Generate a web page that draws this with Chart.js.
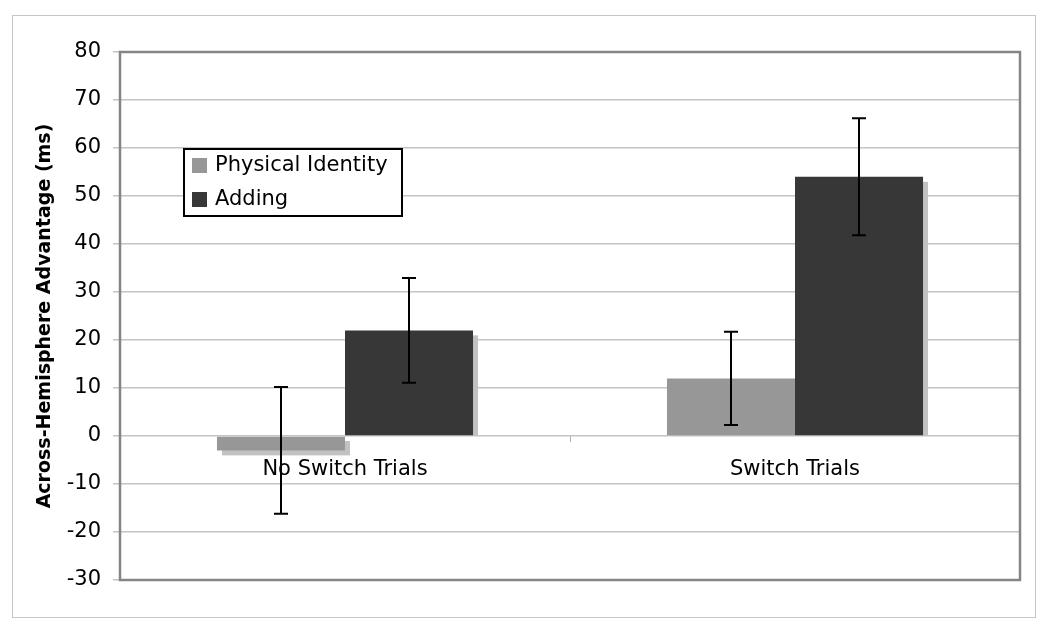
<!DOCTYPE html>
<html>
<head>
<meta charset="utf-8">
<script src="https://cdn.jsdelivr.net/npm/chart.js@4.4.1/dist/chart.umd.min.js"></script>
<style>
  html, body { margin: 0; padding: 0; background: #ffffff; }
  #wrap { position: relative; width: 1050px; height: 632px; }
  canvas { display: block; }
</style>
</head>
<body>
<div id="wrap"><canvas id="c" width="1050" height="632"></canvas></div>
<script>
// ---- data ----
const categories = ['No Switch Trials', 'Switch Trials'];
const seriesNames = ['Physical Identity', 'Adding'];
const physicalIdentity = [-3, 12];
const adding = [22, 54];
const physicalIdentityErr = [13.2, 9.7];
const addingErr = [10.9, 12.2];
const yMin = -30, yMax = 80, yStep = 10;
const yTitle = 'Across-Hemisphere Advantage (ms)';

const FONT = "'DejaVu Sans', Verdana, sans-serif";

// outer frame
const framePlugin = {
  id: 'frame',
  beforeDraw(chart) {
    const ctx = chart.ctx;
    ctx.save();
    ctx.fillStyle = '#ffffff';
    ctx.fillRect(0, 0, chart.width, chart.height);
    ctx.strokeStyle = '#c6c6c6';
    ctx.lineWidth = 1;
    ctx.strokeRect(12.5, 15.5, 1023, 602);
    ctx.restore();
  }
};

// bar shadows + plot border
const shadowPlugin = {
  id: 'shadows',
  beforeDatasetsDraw(chart) {
    const ctx = chart.ctx;
    const yScale = chart.scales.y;
    const base = yScale.getPixelForValue(0);
    const dx = 5, dy = 5;
    ctx.save();
    ctx.fillStyle = '#c2c2c2';
    chart.data.datasets.forEach((ds, i) => {
      const meta = chart.getDatasetMeta(i);
      meta.data.forEach((el, j) => {
        const v = ds.data[j];
        const left = el.x - el.width / 2 + dx;
        const w = el.width;
        let top, bottom;
        if (v >= 0) { top = el.y + dy; bottom = base; }
        else { top = base + dy; bottom = el.y + dy; }
        ctx.fillRect(left, top, w, bottom - top);
      });
    });
    // plot border
    const a = chart.chartArea;
    ctx.strokeStyle = '#858585';
    ctx.lineWidth = 2.5;
    ctx.strokeRect(a.left, a.top, a.right - a.left, a.bottom - a.top);
    ctx.restore();
  }
};

// error bars
const errorPlugin = {
  id: 'errorBars',
  afterDatasetsDraw(chart) {
    const ctx = chart.ctx;
    const yScale = chart.scales.y;
    const errs = [physicalIdentityErr, addingErr];
    ctx.save();
    ctx.strokeStyle = '#000000';
    ctx.lineWidth = 2;
    chart.data.datasets.forEach((ds, i) => {
      const meta = chart.getDatasetMeta(i);
      meta.data.forEach((el, j) => {
        const v = ds.data[j], e = errs[i][j];
        const x = Math.round(el.x) ;
        const y1 = yScale.getPixelForValue(v + e);
        const y2 = yScale.getPixelForValue(v - e);
        const cap = 7;
        ctx.beginPath();
        ctx.moveTo(x, y1); ctx.lineTo(x, y2);
        ctx.moveTo(x - cap, y1); ctx.lineTo(x + cap, y1);
        ctx.moveTo(x - cap, y2); ctx.lineTo(x + cap, y2);
        ctx.stroke();
      });
    });
    ctx.restore();
  }
};

// legend box inside plot
const legendPlugin = {
  id: 'boxLegend',
  afterDraw(chart) {
    const ctx = chart.ctx;
    const a = chart.chartArea;
    const bx = a.left + 64, by = a.top + 97, bw = 218, bh = 67;
    ctx.save();
    ctx.fillStyle = '#ffffff';
    ctx.fillRect(bx, by, bw, bh);
    ctx.strokeStyle = '#000000';
    ctx.lineWidth = 2;
    ctx.strokeRect(bx, by, bw, bh);
    ctx.font = '21px ' + FONT;
    ctx.textBaseline = 'middle';
    ctx.textAlign = 'left';
    chart.data.datasets.forEach((ds, i) => {
      const rowY = by + 17 + i * 34;
      ctx.fillStyle = ds.backgroundColor;
      ctx.fillRect(bx + 8, rowY - 8, 15, 15);
      ctx.fillStyle = '#000000';
      ctx.fillText(ds.label, bx + 31, rowY);
    });
    ctx.restore();
  }
};

new Chart(document.getElementById('c'), {
  type: 'bar',
  data: {
    labels: categories,
    datasets: [
      { label: seriesNames[0], data: physicalIdentity, backgroundColor: '#979797', borderWidth: 0,
        barPercentage: 1.0, categoryPercentage: 0.569 },
      { label: seriesNames[1], data: adding, backgroundColor: '#373737', borderWidth: 0,
        barPercentage: 1.0, categoryPercentage: 0.569 }
    ]
  },
  options: {
    responsive: false,
    animation: false,
    devicePixelRatio: 1,
    layout: { padding: { left: 0, top: 52, right: 30, bottom: 52 } },
    plugins: {
      legend: { display: false },
      tooltip: { enabled: false }
    },
    scales: {
      x: {
        position: { y: 0 },
        grid: { display: true, drawOnChartArea: false, drawTicks: true, tickLength: 6,
                color: '#b0b0b0', offset: true },
        border: { display: false },
        ticks: { color: '#000000', font: { family: FONT, size: 21 }, padding: 15, maxRotation: 0 },
        afterFit(scale) { scale.height = 0; }
      },
      y: {
        min: yMin, max: yMax,
        ticks: { stepSize: yStep, color: '#000000', font: { family: FONT, size: 21 }, padding: 12 },
        grid: { color: '#c4c4c4', lineWidth: 1.5, tickLength: 7, tickColor: '#c4c4c4' },
        border: { display: false },
        title: { display: true, text: yTitle, color: '#000000',
                 font: { family: FONT, size: 19, weight: 'bold', lineHeight: 1.2 },
                 padding: { top: 34, bottom: 0 } },
        afterFit(scale) { scale.width = 120; }
      }
    }
  },
  plugins: [framePlugin, shadowPlugin, errorPlugin, legendPlugin]
});
</script>
</body>
</html>
